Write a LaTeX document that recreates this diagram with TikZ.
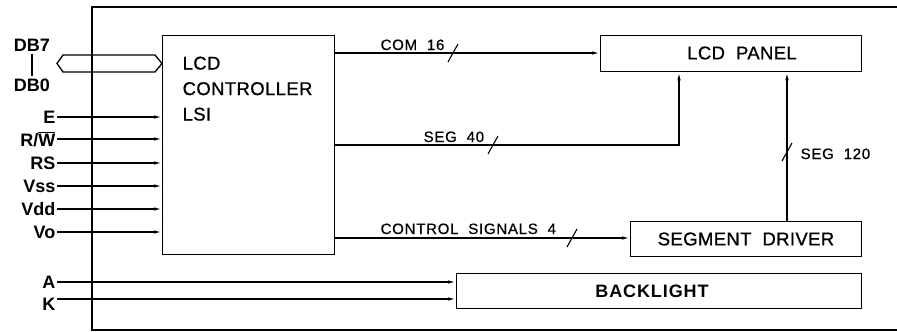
\documentclass[tikz,border=0pt]{standalone}
\usepackage{fontspec}
\setmainfont{Liberation Sans}
\newfontfamily\widefont[LetterSpace=2, FakeBold=0.8]{Liberation Sans}
\newfontfamily\smallfont[LetterSpace=5, FakeBold=0.6]{Liberation Sans}
\usetikzlibrary{arrows.meta}
\begin{document}
\begin{tikzpicture}[x=1pt,y=-1pt, line width=1.3pt,
  box/.style={draw, rectangle, inner sep=0pt, anchor=north west},
  big/.style={font=\widefont\fontsize{18.5}{25.5}\selectfont, inner sep=0pt},
  small/.style={font=\smallfont\fontsize{15}{16}\selectfont, inner sep=0pt},
  pin/.style={font=\bfseries\fontsize{18}{20}\selectfont, inner sep=0pt, anchor=east},
  arr/.style={-{Latex[length=8pt,width=3.5pt]}},
  tick/.style={line width=1.1pt}]
\useasboundingbox (0,0) rectangle (897,332);

% outer frame
\coordinate (fTR) at (897,7);
\coordinate (fBL) at (92,330);
\coordinate (fBR) at (897,330);
\draw (fTR) -| (fBL) -- (fBR);

% boxes
\node[box, minimum width=172pt, minimum height=219pt] (ctrl) at (162,35) {};
\node[box, minimum width=261pt, minimum height=36pt] (panel) at (600,35) {};
\node[box, minimum width=231pt, minimum height=35pt] (drv) at (630,221) {};
\node[box, minimum width=405pt, minimum height=35pt] (bl) at (456,273) {};

% box texts
\node[big, align=left, anchor=north west] (ctrltext) at (182,56) {LCD\\CONTROLLER\\LSI};
\node[big] (paneltext) at (742,53) {LCD\ \ PANEL};
\node[big] (drvtext) at (746,239) {SEGMENT\ \ DRIVER};
\node[big, font=\bfseries\fontsize{18}{20}\selectfont\addfontfeature{LetterSpace=5}] (bltext) at (652,291) {BACKLIGHT};

% data bus
\node[pin, anchor=center] (db7) at (32,45) {DB7};
\node[pin, anchor=center] (db0) at (32,85) {DB0};
\draw[line width=1.1pt] ([yshift=-2pt]db7.south) -- ([yshift=2pt]db0.north);
\coordinate (busL) at (57,63.5);
\coordinate (busR) at (ctrl.west |- busL);
\draw (busL) -- ([shift={(6,-8.5)}]busL) -- ([shift={(-7,-8.5)}]busR) -- (busR)
      -- ([shift={(-7,8.5)}]busR) -- ([shift={(6,8.5)}]busL) -- cycle;

% control inputs
\foreach \name/\txt/\yy in {iE/E/117, iRW/{R/$\overline{\mbox{\bfseries W}}$}/139, iRS/RS/163,
    iVss/Vss/186, iVdd/Vdd/209, iVo/Vo/232} {
  \coordinate (\name) at (57,\yy);
  \node[pin] (\name l) at ([xshift=-1pt]\name) {\txt};
  \draw[arr] (\name) -- (\name -| ctrl.west);
}

% backlight inputs
\coordinate (iA) at (57,282);
\coordinate (iK) at (57,299);
\node[pin] (iAl) at (56,282) {A};
\node[pin] (iKl) at (56,304) {K};
\draw[arr] (iA) -- (iA -| bl.west);
\draw[arr] (iK) -- (iK -| bl.west);

% COM 16
\coordinate (com) at (453,53);
\draw[arr] (com -| ctrl.east) -- (com -| panel.west);
\draw[tick] ([shift={(-5,9)}]com) -- ([shift={(5,-9)}]com);
\node[small, anchor=base west] (comtext) at (380,50) {COM\ \ 16};

% SEG 40
\coordinate (seg40) at (493,145);
\coordinate (seg40up) at (679,145);
\draw[arr] (seg40 -| ctrl.east) -| (panel.south -| seg40up);
\draw[tick] ([shift={(-5,9)}]seg40) -- ([shift={(5,-9)}]seg40);
\node[small, anchor=base west] (seg40text) at (423,142) {SEG\ \ 40};

% SEG 120
\coordinate (seg120) at (787,152);
\draw[arr] (drv.north -| seg120) -- (panel.south -| seg120);
\draw[tick] ([shift={(-5,9)}]seg120) -- ([shift={(5,-9)}]seg120);
\node[small, anchor=base west] (seg120text) at (800,159) {SEG\ \ 120};

% CONTROL SIGNALS 4
\coordinate (cs) at (572,238);
\draw[arr] (cs -| ctrl.east) -- (cs -| drv.west);
\draw[tick] ([shift={(-5,9)}]cs) -- ([shift={(5,-9)}]cs);
\node[small, anchor=base west] (cstext) at (380,234) {CONTROL\ \ SIGNALS\ \ 4};
\end{tikzpicture}
\end{document}
